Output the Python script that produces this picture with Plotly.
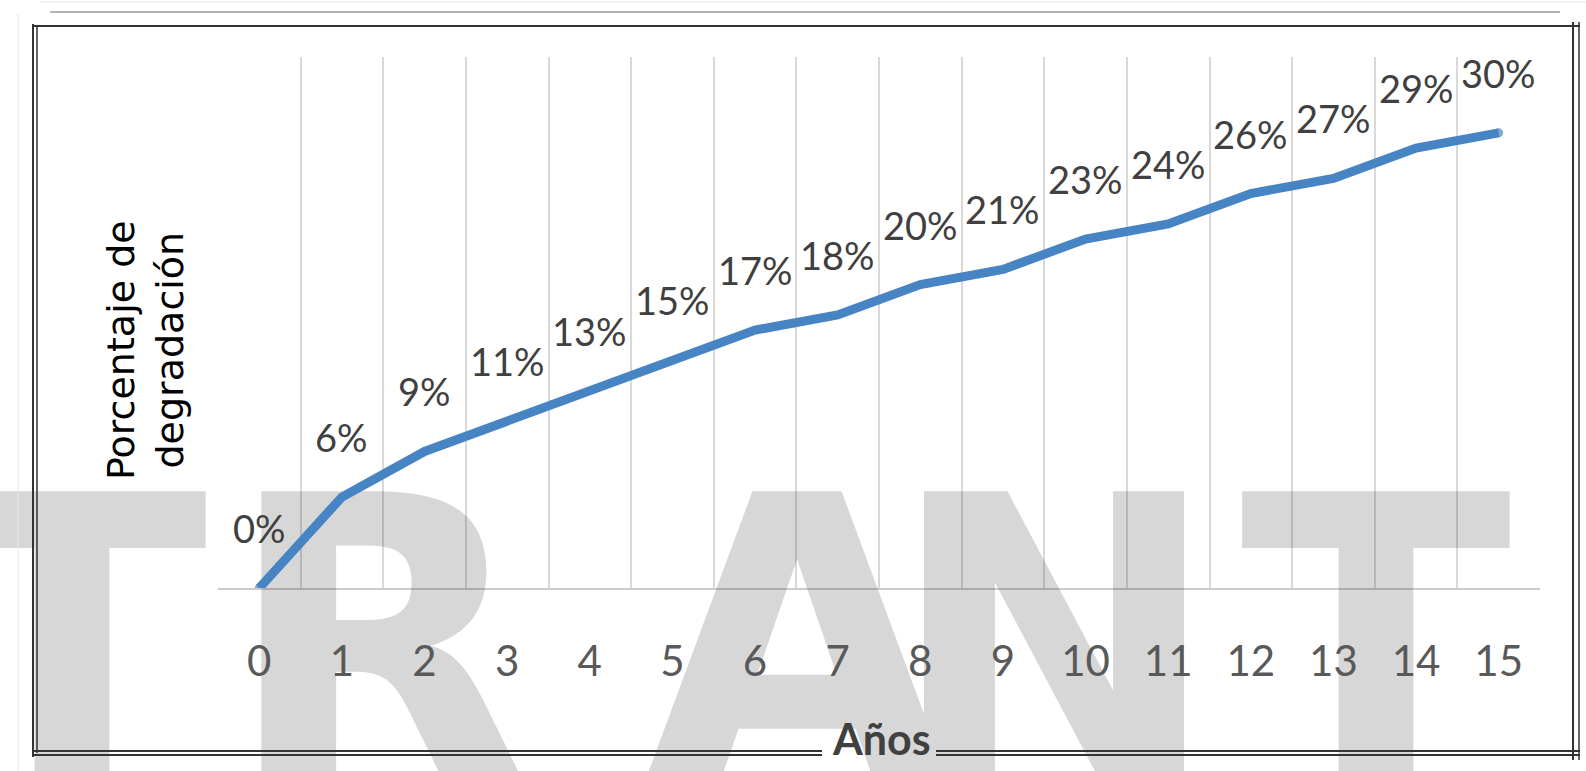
import plotly.graph_objects as go

# Degradation curve: years of service vs. cumulative percentage lost
years = [0, 1, 2, 3, 4, 5, 6, 7, 8, 9, 10, 11, 12, 13, 14, 15]
degradation_pct = [0, 6, 9, 11, 13, 15, 17, 18, 20, 21, 23, 24, 26, 27, 29, 30]
tick_labels = [str(v) for v in years]
x_title = "Años"
y_title = "Porcentaje de<br>degradación"
watermark_letters = ["T", "R", "A", "N", "T"]

FIG_W, FIG_H = 1586, 771
# chart plot-area box in pixels
L, R, T, B = 218, 1540, 57, 588
X_RANGE = [years[0] - 0.5, years[-1] + 0.5]
Y_RANGE = [0, 35]


def px(x):
    return x / FIG_W


def py(y):
    return 1 - y / FIG_H


fig = go.Figure()

# watermark lettering on a full-page subplot (xy) beneath the chart (x2y2)
letter_centers = [72, 378, 797, 1054, 1376]
fig.add_trace(go.Scatter(
    x=letter_centers, y=[682] * len(letter_centers),
    text=[f"<b>{ch}</b>" for ch in watermark_letters],
    mode="text", textposition="middle center",
    textfont=dict(family="DejaVu Sans", size=398, color="#d7d7d7"),
    cliponaxis=False, hoverinfo="skip", showlegend=False,
    xaxis="x", yaxis="y",
))

n = len(years)
cap_sizes = [9] + [0] * (n - 2) + [9]
fig.add_trace(go.Scatter(
    x=years, y=degradation_pct, mode="lines+markers",
    line=dict(color="#4784C4", width=9),
    marker=dict(size=cap_sizes, color="#4784C4", line=dict(width=0)),
    hoverinfo="skip", showlegend=False,
    xaxis="x2", yaxis="y2",
))

annotations = []
for xv, v in zip(years, degradation_pct):
    annotations.append(dict(
        x=xv, y=v, xref="x2", yref="y2", text=f"{v}%", showarrow=False,
        yshift=60, xanchor="center", yanchor="middle",
        font=dict(family="Lato", size=38, color="#404040"),
    ))

annotations.append(dict(
    x=px(146), y=py(350), xref="paper", yref="paper", text=y_title,
    showarrow=False, textangle=-90, xanchor="center", yanchor="middle",
    font=dict(family="DejaVu Sans", size=38, color="#000000"),
))
annotations.append(dict(
    x=px(881), y=py(738), xref="paper", yref="paper", text=f"<b>{x_title}</b>",
    showarrow=False, xanchor="center", yanchor="middle",
    font=dict(family="Lato", size=43, color="#404040"),
))

shapes = []


def hline(y, x0, x1, color, width):
    shapes.append(dict(type="line", xref="paper", yref="paper",
                       x0=px(x0), x1=px(x1), y0=py(y), y1=py(y),
                       line=dict(color=color, width=width)))


def vline(x, y0, y1, color, width):
    shapes.append(dict(type="line", xref="paper", yref="paper",
                       x0=px(x), x1=px(x), y0=py(y0), y1=py(y1),
                       line=dict(color=color, width=width)))


# outer frame
hline(2, 40, 1586, "#e6e6e6", 1)
vline(18, 14, 771, "#e6e6e6", 1)
hline(12, 50, 1560, "#9a9a9a", 1.5)
hline(26, 33, 1580, "#333333", 2)
vline(33, 24, 757, "#333333", 2)
vline(37, 26, 753, "#333333", 1.5)
vline(1573, 22, 760, "#333333", 2)
vline(1579, 22, 760, "#333333", 1.5)
for yb in (751, 755):
    hline(yb, 33, 822, "#333333", 1.8)
    hline(yb, 936, 1580, "#333333", 1.8)

fig.update_layout(
    width=FIG_W, height=FIG_H,
    margin=dict(l=0, r=0, t=0, b=0),
    paper_bgcolor="white", plot_bgcolor="rgba(0,0,0,0)",
    shapes=shapes, annotations=annotations,
    xaxis=dict(domain=[0, 1], range=[0, FIG_W], visible=False, fixedrange=True),
    yaxis=dict(domain=[0, 1], range=[FIG_H, 0], visible=False, fixedrange=True),
    xaxis2=dict(
        domain=[px(L), px(R)], anchor="y2",
        range=X_RANGE, tickmode="array", tickvals=years, ticktext=tick_labels,
        showgrid=False,
        minor=dict(tick0=X_RANGE[0], dtick=1, showgrid=True,
                   gridcolor="rgba(0,0,0,0.15)", gridwidth=1.5, ticks=""),
        showline=True, linecolor="rgba(0,0,0,0.2)", linewidth=2,
        ticks="", ticklabelstandoff=36,
        tickfont=dict(family="Lato", size=42, color="#595959"),
        zeroline=False, fixedrange=True,
    ),
    yaxis2=dict(
        domain=[py(B), py(T)], anchor="x2",
        range=Y_RANGE, showgrid=False, zeroline=False, showline=False,
        showticklabels=False, ticks="", fixedrange=True,
    ),
)

fig.write_html("out.html")
